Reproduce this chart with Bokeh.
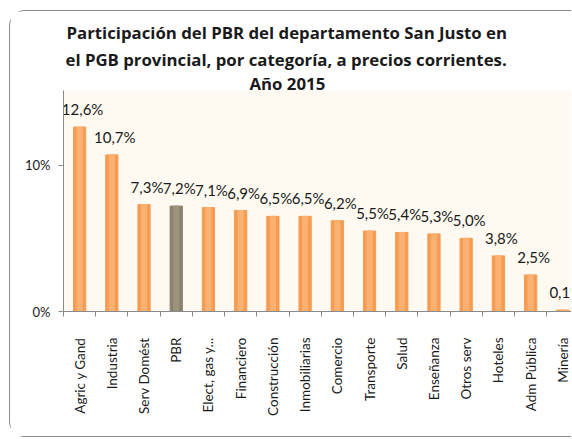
from bokeh.plotting import figure
from bokeh.models import ColumnDataSource, FixedTicker, Range1d, Title
from bokeh.core.properties import value
from bokeh.embed import file_html
from bokeh.resources import INLINE
import math

categories = ["Agric y Gand", "Industria", "Serv Domést", "PBR", "Elect, gas y...",
              "Financiero", "Construcción", "Inmobiliarias", "Comercio", "Transporte",
              "Salud", "Enseñanza", "Otros serv", "Hoteles", "Adm Pública", "Minería"]
values = [12.6, 10.7, 7.3, 7.2, 7.1, 6.9, 6.5, 6.5, 6.2, 5.5, 5.4, 5.3, 5.0, 3.8, 2.5, 0.1]
value_labels = ["12,6%", "10,7%", "7,3%", "7,2%", "7,1%", "6,9%", "6,5%", "6,5%", "6,2%",
                "5,5%", "5,4%", "5,3%", "5,0%", "3,8%", "2,5%", "0,1%"]
y_ticks = [0, 10]
y_tick_labels = ["0%", "10%"]
title_lines = ["Participación del PBR del departamento San Justo en",
               "el PGB provincial, por categoría, a precios corrientes.",
               "Año 2015"]

FONT = "Lato"
TITLE_FONT = "Open Sans"
ORANGE = "#F69C52"
ORANGE_HI = "#FAB172"
GREY = "#8A826D"
GREY_HI = "#9C947F"

xs = list(range(len(categories)))
colors = [GREY if c == "PBR" else ORANGE for c in categories]
hi_colors = [GREY_HI if c == "PBR" else ORANGE_HI for c in categories]

src = ColumnDataSource(dict(x=xs, top=values, color=colors, hi=hi_colors, lab=value_labels))

p = figure(width=562, height=427, output_backend="svg", toolbar_location=None,
           x_range=Range1d(-0.5, 15.3), y_range=Range1d(0, 15.1),
           min_border_left=53, min_border_right=0, min_border_top=79, min_border_bottom=127)
p.styles = {"margin-left": "9px", "margin-top": "10px",
            "border-left": "1px solid #8a8a8a", "border-top": "1px solid #8a8a8a",
            "border-bottom": "1px solid #8a8a8a", "border-top-left-radius": "16px",
            "border-bottom-left-radius": "16px"}
p.background_fill_color = "#FEF9F1"
p.border_fill_color = "white"
p.outline_line_color = None
p.xgrid.visible = False
p.ygrid.visible = False

p.vbar(x="x", top="top", width=0.38, color="color", source=src)
p.vbar(x="x", top="top", width=0.16, color="hi", source=src)

p.text(x="x", y="top", text="lab", source=src, text_font=value(FONT),
       text_font_size="15px", text_color="#1a1a1a", text_align="center",
       text_baseline="alphabetic", x_offset=3, y_offset=-18)

# axes
p.xaxis.ticker = FixedTicker(ticks=xs, minor_ticks=[i - 0.5 for i in range(len(categories) + 1)])
p.xaxis.major_label_overrides = {i: c for i, c in enumerate(categories)}
p.xaxis.major_label_orientation = math.pi / 2
p.xaxis.major_tick_out = 0
p.xaxis.major_tick_in = 0
p.xaxis.minor_tick_out = 5
p.xaxis.minor_tick_in = 0
p.xaxis.major_label_standoff = 21
p.xaxis.axis_line_color = "#8a8a8a"
p.xaxis.minor_tick_line_color = "#8a8a8a"
p.xaxis.major_label_text_font = FONT
p.xaxis.major_label_text_font_size = "13.5px"
p.xaxis.major_label_text_color = "#1a1a1a"

p.yaxis.ticker = FixedTicker(ticks=y_ticks, minor_ticks=[])
p.yaxis.major_label_overrides = {t: l for t, l in zip(y_ticks, y_tick_labels)}
p.yaxis.major_tick_out = 5
p.yaxis.major_tick_in = 0
p.yaxis.axis_line_color = "#8a8a8a"
p.yaxis.major_tick_line_color = "#8a8a8a"
p.yaxis.major_label_standoff = 8
p.yaxis.major_label_text_font = FONT
p.yaxis.major_label_text_font_size = "13px"
p.yaxis.major_label_text_color = "#1a1a1a"

# title lines: added nearest-to-plot first
for txt, off, so in [(title_lines[2], 186, -8), (title_lines[1], 2, 6), (title_lines[0], 3, -2)]:
    p.add_layout(Title(text=txt, align="left", offset=off, standoff=so,
                       text_font=TITLE_FONT, text_font_style="bold", text_font_size="16.8px",
                       text_color="#1a1a1a"), "above")

open("out.html", "w").write(file_html(p, INLINE))
